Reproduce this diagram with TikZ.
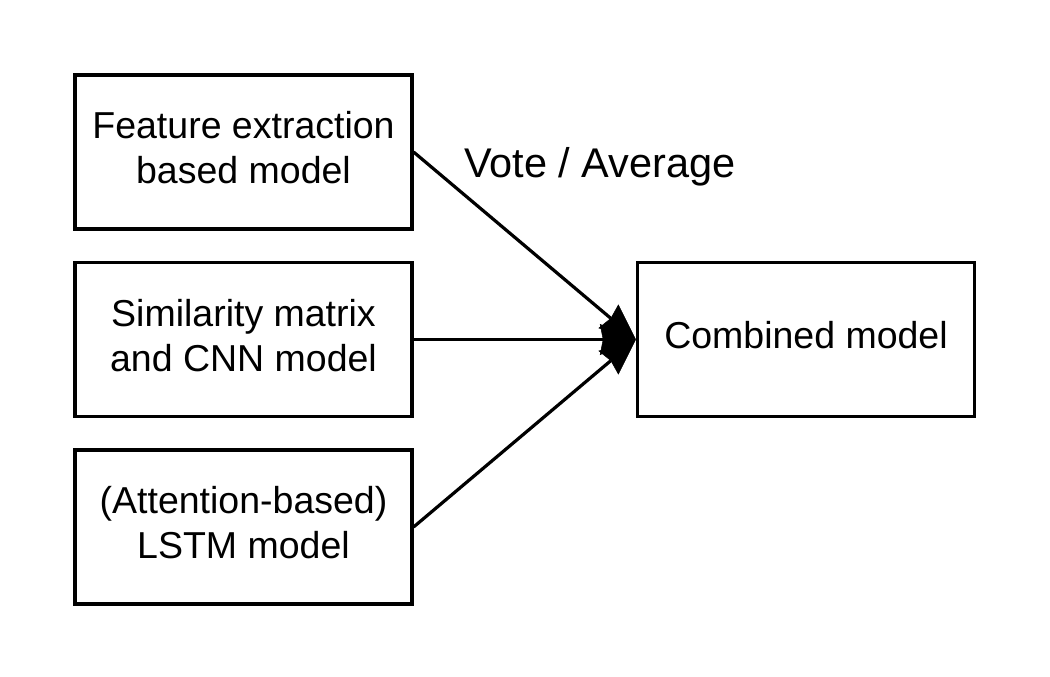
\documentclass[tikz,border=0pt]{standalone}
\usepackage{fontspec}
\setmainfont{Liberation Sans}
\usetikzlibrary{arrows.meta}
\newcommand{\uptext}[1]{\raisebox{5pt}{\begin{tabular}{@{}c@{}}#1\end{tabular}}}
\begin{document}
\begin{tikzpicture}[x=1pt,y=-1pt,
  modelbox/.style={draw,line width=3.2pt,minimum width=337pt,minimum height=154pt,inner sep=0pt,align=center,font=\fontsize{37.5}{45}\selectfont},
  conn/.style={line width=3.2pt,-{Stealth[length=36pt,width=31pt,inset=3pt,line width=0.5pt]}}]
\useasboundingbox (0,0) rectangle (1050,677);
\node[modelbox] (fe) at (243.5,152) {\uptext{Feature extraction\\based model}};
\node[modelbox] (sm) at (243.5,339.5) {\uptext{Similarity matrix\\and CNN model}};
\node[modelbox] (ls) at (243.5,527) {\uptext{(Attention-based)\\LSTM model}};
\node[modelbox] (cm) at (806,339.5) {\uptext{Combined model}};
\node[font=\fontsize{41.5}{50}\selectfont] (va) at (600,167) {Vote / Average};
\draw[conn] (fe.east) -- (cm.west);
\draw[conn] (sm.east) -- (cm.west);
\draw[conn] (ls.east) -- (cm.west);
\end{tikzpicture}
\end{document}
